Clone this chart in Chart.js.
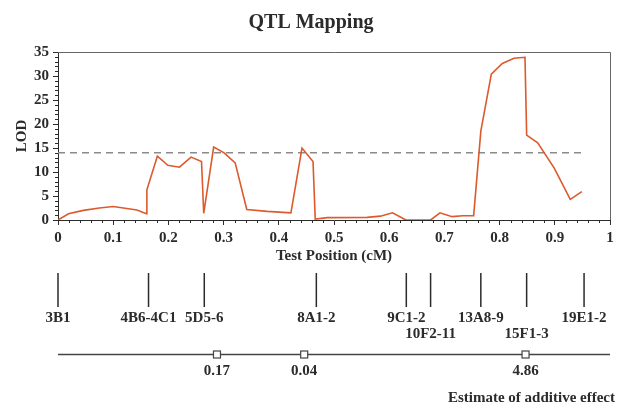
<!DOCTYPE html>
<html>
<head>
<meta charset="utf-8">
<script src="https://cdn.jsdelivr.net/npm/chart.js@4.4.1/dist/chart.umd.min.js"></script>
<style>
  html, body { margin: 0; padding: 0; background: #fff; }
  #wrap { width: 628px; height: 405px; }
</style>
</head>
<body>
<div id="wrap"><canvas id="qtlChart" width="628" height="405"></canvas></div>
<script>
// LOD profile along the test position
var lodPos = [0, 0.019, 0.046, 0.075, 0.1, 0.143, 0.16, 0.161, 0.18, 0.199, 0.22, 0.241, 0.26, 0.264,
  0.282, 0.301, 0.321, 0.342, 0.379, 0.422, 0.442, 0.462, 0.466, 0.488, 0.56, 0.584, 0.606, 0.627,
  0.63, 0.675, 0.692, 0.714, 0.733, 0.753, 0.766, 0.785, 0.805, 0.826, 0.846, 0.849, 0.869, 0.899,
  0.928, 0.949];
var lodValues = [0, 1.3, 2.0, 2.5, 2.8, 2.1, 1.3, 6.3, 13.3, 11.4, 11.0, 13.1, 12.2, 1.4,
  15.2, 14.0, 11.9, 2.2, 1.8, 1.5, 15.0, 12.2, 0.2, 0.5, 0.55, 0.8, 1.5, 0.2,
  0, 0, 1.5, 0.7, 0.9, 0.9, 18.5, 30.4, 32.6, 33.7, 33.9, 17.7, 16.1, 10.8,
  4.3, 5.9];
var thresholdPos = [0, 0.95];
var thresholdLod = [14, 14];

// markers under the axis
var markerNames = ['3B1', '4B6-4C1', '5D5-6', '8A1-2', '9C1-2', '10F2-11', '13A8-9', '15F1-3', '19E1-2'];
var markerPos = [0.0, 0.164, 0.265, 0.468, 0.631, 0.675, 0.766, 0.849, 0.953];
var markerRow = [0, 0, 0, 0, 0, 1, 0, 1, 0];

// additive effect estimates
var effectPos = [0.288, 0.446, 0.847];
var effectLabels = ['0.17', '0.04', '4.86'];

var serif = '"Liberation Serif", "DejaVu Serif", serif';
var ink = '#2b2b2b';

function toPoints(xs, ys) {
  var pts = [];
  for (var i = 0; i < xs.length; i++) pts.push({x: xs[i], y: ys[i]});
  return pts;
}

// extra drawing: minor ticks, frame, markers and effect line
var qtlExtras = {
  id: 'qtlExtras',
  afterDraw: function(chart) {
    var ctx = chart.ctx;
    var xs = chart.scales.x, ys = chart.scales.y;
    var area = chart.chartArea;
    ctx.save();

    // frame top/right
    ctx.strokeStyle = '#666';
    ctx.lineWidth = 1;
    ctx.beginPath();
    ctx.moveTo(area.left, area.top + 0.5);
    ctx.lineTo(area.right + 0.5, area.top + 0.5);
    ctx.lineTo(area.right + 0.5, area.bottom);
    ctx.stroke();

    // minor ticks
    ctx.strokeStyle = ink;
    ctx.beginPath();
    for (var i = 0; i <= 50; i++) {
      if (i % 5 === 0) continue;
      var px = Math.round(xs.getPixelForValue(i / 50)) + 0.5;
      ctx.moveTo(px, area.bottom);
      ctx.lineTo(px, area.bottom + 3);
    }
    for (var j = 0; j <= 35; j++) {
      if (j % 5 === 0) continue;
      var py = Math.round(ys.getPixelForValue(j)) + 0.5;
      ctx.moveTo(area.left - 3, py);
      ctx.lineTo(area.left, py);
    }
    ctx.stroke();

    // markers
    ctx.lineWidth = 1.5;
    ctx.fillStyle = ink;
    ctx.font = 'bold 15px ' + serif;
    ctx.textAlign = 'center';
    ctx.textBaseline = 'middle';
    ctx.beginPath();
    for (var k = 0; k < markerPos.length; k++) {
      var mx = xs.getPixelForValue(markerPos[k]);
      ctx.moveTo(mx, 273);
      ctx.lineTo(mx, 307);
    }
    ctx.stroke();
    for (var k2 = 0; k2 < markerPos.length; k2++) {
      var lx = xs.getPixelForValue(markerPos[k2]);
      ctx.fillText(markerNames[k2], lx, markerRow[k2] ? 334 : 318.5);
    }

    // effect line
    var ey = 354.5;
    ctx.lineWidth = 1.5;
    ctx.strokeStyle = '#444';
    ctx.beginPath();
    ctx.moveTo(xs.getPixelForValue(0), ey);
    ctx.lineTo(xs.getPixelForValue(1), ey);
    ctx.stroke();
    ctx.lineWidth = 1.2;
    for (var e = 0; e < effectPos.length; e++) {
      var ex = xs.getPixelForValue(effectPos[e]);
      ctx.fillStyle = '#fff';
      ctx.fillRect(ex - 3.5, ey - 3.5, 7, 7);
      ctx.strokeRect(ex - 3.5, ey - 3.5, 7, 7);
      ctx.fillStyle = ink;
      ctx.fillText(effectLabels[e], ex, 371.5);
    }
    ctx.textAlign = 'right';
    ctx.fillText('Estimate of additive effect', xs.getPixelForValue(1) + 5, 398);
    ctx.restore();
  }
};

var ctx = document.getElementById('qtlChart').getContext('2d');
var qtlChart = new Chart(ctx, {
  type: 'line',
  data: {
    datasets: [
      {
        data: toPoints(lodPos, lodValues),
        borderColor: '#dc5a2c',
        borderWidth: 1.6,
        pointRadius: 0,
        tension: 0
      },
      {
        data: toPoints(thresholdPos, thresholdLod),
        borderColor: '#8a8a8a',
        borderWidth: 1.5,
        borderDash: [7, 5],
        pointRadius: 0
      }
    ]
  },
  plugins: [qtlExtras],
  options: {
    responsive: false,
    animation: false,
    layout: { padding: { left: 12, right: 18, top: 0, bottom: 137 } },
    plugins: {
      legend: { display: false },
      tooltip: { enabled: false },
      title: {
        display: true,
        text: 'QTL Mapping',
        color: ink,
        font: { family: serif, size: 20, weight: 'bold' },
        padding: { top: 11, bottom: 17 }
      }
    },
    scales: {
      x: {
        type: 'linear',
        min: 0,
        max: 1,
        afterFit: function(scale) { scale.height = 48; },
        border: { display: true, color: ink, width: 1 },
        grid: { drawOnChartArea: false, drawTicks: true, tickLength: 5, color: ink },
        ticks: {
          stepSize: 0.1,
          autoSkip: false,
          maxRotation: 0,
          padding: 4,
          color: ink,
          font: { family: serif, size: 15, weight: 'bold' },
          callback: function(v) {
            if (v === 0 || v === 1) return String(v);
            return v.toFixed(1);
          }
        },
        title: {
          display: true,
          text: 'Test Position (cM)',
          color: ink,
          font: { family: serif, size: 15, weight: 'bold' },
          padding: { top: 0, bottom: 3 }
        }
      },
      y: {
        min: 0,
        max: 35,
        afterFit: function(scale) { scale.width = 46; },
        border: { display: true, color: ink, width: 1 },
        grid: { drawOnChartArea: false, drawTicks: true, tickLength: 5, color: ink },
        ticks: {
          stepSize: 5,
          padding: 4,
          color: ink,
          font: { family: serif, size: 15, weight: 'bold' }
        },
        title: {
          display: true,
          text: 'LOD',
          color: ink,
          font: { family: serif, size: 15, weight: 'bold' },
          padding: { top: 1, bottom: 0 }
        }
      }
    }
  }
});
</script>
</body>
</html>
